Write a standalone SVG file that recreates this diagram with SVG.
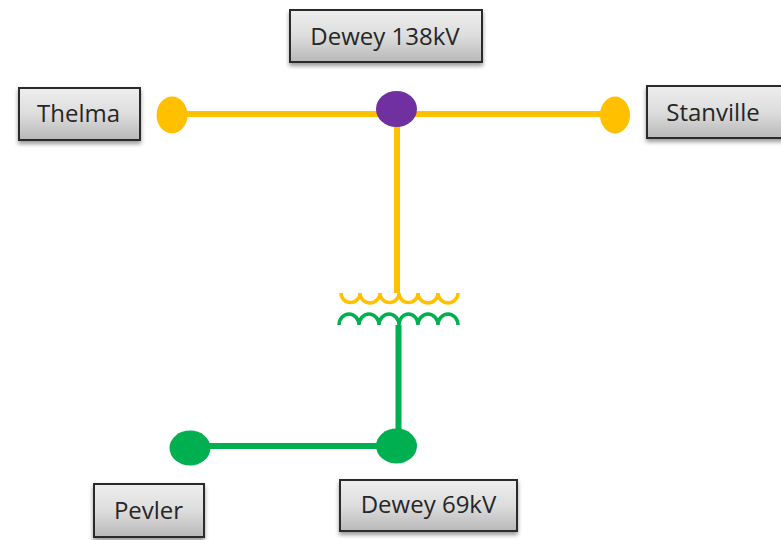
<svg xmlns="http://www.w3.org/2000/svg" width="781" height="540" viewBox="0 0 781 540">
<style>
.box{fill:url(#boxFill);stroke:#2b2b2b;stroke-width:2;filter:url(#shadow)}
.label{font-family:"Open Sans","Noto Sans","Liberation Sans",sans-serif;font-size:24px;fill:#262626;text-anchor:middle}
.y{stroke:#ffc000;fill:none}
.g{stroke:#00b050;fill:none}
</style>
<defs>
<linearGradient id="boxFill" x1="0" y1="0" x2="0" y2="1">
<stop offset="0" stop-color="#eeeeee"/><stop offset="0.5" stop-color="#dddddd"/><stop offset="1" stop-color="#b8b8b8"/>
</linearGradient>
<filter id="shadow" x="-10%" y="-20%" width="120%" height="150%">
<feDropShadow dx="0" dy="3" stdDeviation="2" flood-color="#000" flood-opacity="0.4"/>
</filter>
</defs>
<rect width="781" height="540" fill="#ffffff"/>
<g id="connectors">
<path class="y" stroke-width="6" d="M172 114H615M397 109V293"/>
<path class="y" stroke-width="3.500" d="M341 293a9.500 9.500 0 0 0 19 0a10 10 0 0 0 20 0a9.500 9.500 0 0 0 19 0a9.500 9.500 0 0 0 19 0a10 10 0 0 0 20 0a10 10 0 0 0 20 0"/>
<path class="g" stroke-width="3.500" d="M339 325a10 11 0 0 1 20 0a10 11 0 0 1 20 0a10 11 0 0 1 20 0a9.500 11 0 0 1 19 0a10 11 0 0 1 20 0a10 11 0 0 1 20 0"/>
<path class="g" stroke-width="6" d="M398.500 325V446M190 446H397"/>
</g>
<g id="node-thelma-dot"><ellipse cx="172" cy="115" rx="15.500" ry="18.500" fill="#ffc000"/></g>
<g id="node-dewey138-dot"><ellipse cx="396.500" cy="109" rx="20.500" ry="18" fill="#7030a0"/></g>
<g id="node-stanville-dot"><ellipse cx="615" cy="115" rx="15" ry="18.500" fill="#ffc000"/></g>
<g id="node-pevler-dot"><ellipse cx="190" cy="448" rx="20.500" ry="17.500" fill="#00b050"/></g>
<g id="node-dewey69-dot"><ellipse cx="396.500" cy="446" rx="20.500" ry="17.500" fill="#00b050"/></g>
<g id="node-dewey138"><rect class="box" x="290" y="10" width="192" height="52"/><text class="label" x="385" y="45">Dewey 138kV</text></g>
<g id="node-thelma"><rect class="box" x="19" y="88" width="121" height="52"/><text class="label" x="78.500" y="122">Thelma</text></g>
<g id="node-stanville"><rect class="box" x="647" y="86" width="140" height="52"/><text class="label" x="713" y="121">Stanville</text></g>
<g id="node-pevler"><rect class="box" x="94" y="484" width="110" height="53"/><text class="label" x="148.500" y="519">Pevler</text></g>
<g id="node-dewey69"><rect class="box" x="340" y="480" width="177" height="51"/><text class="label" x="428.500" y="513">Dewey 69kV</text></g>
</svg>
